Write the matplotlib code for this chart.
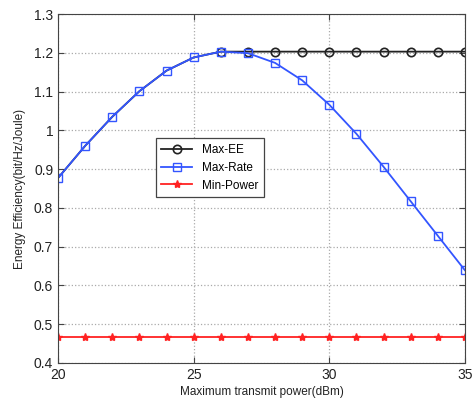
import matplotlib.pyplot as plt

plt.rcParams['font.family'] = ['Liberation Sans', 'DejaVu Sans']

power = [20, 21, 22, 23, 24, 25, 26, 27, 28, 29, 30, 31, 32, 33, 34, 35]
max_ee = [0.877, 0.960, 1.035, 1.101, 1.154, 1.188, 1.203, 1.203, 1.203, 1.203,
          1.203, 1.203, 1.203, 1.203, 1.203, 1.203]
max_rate = [0.877, 0.960, 1.035, 1.101, 1.154, 1.188, 1.203, 1.199, 1.174, 1.129,
            1.066, 0.991, 0.906, 0.817, 0.728, 0.639]
min_power = [0.468] * 16

fig = plt.figure(figsize=(4.72, 4.01), dpi=100)
ax = fig.add_axes([0.123, 0.095, 0.862, 0.870])

# Max-EE coincides with Max-Rate below 26 dBm, its markers hidden there
ax.plot(power, max_ee, color='#222222', marker='o', markersize=6, markerfacecolor='none',
        markeredgewidth=1.2, linewidth=1.3, label='Max-EE', markevery=range(6, 16))
ax.plot(power, max_rate, color='#3355ff', marker='s', markersize=6, markerfacecolor='none',
        markeredgewidth=1.0, linewidth=1.3, label='Max-Rate')
ax.plot(power, min_power, color='#ff2222', marker='*', markersize=6,
        linewidth=1.3, label='Min-Power')

ax.set_xlim(20, 35)
ax.set_ylim(0.4, 1.3)
ax.set_xticks([20, 25, 30, 35])
ax.set_yticks([0.4, 0.5, 0.6, 0.7, 0.8, 0.9, 1.0, 1.1, 1.2, 1.3])
ax.set_yticklabels(['0.4', '0.5', '0.6', '0.7', '0.8', '0.9', '1', '1.1', '1.2', '1.3'])
ax.tick_params(direction='in', labelsize=10, length=4, color='#444444', top=True, right=True,
               labelcolor='#222222')
ax.grid(True, linestyle=':', color='#aaaaaa', linewidth=0.9)
for s in ax.spines.values():
    s.set_color('#444444')

ax.set_xlabel('Maximum transmit power(dBm)', fontsize=8.5, color='#222222', labelpad=3)
ax.set_ylabel('Energy Efficiency(bit/Hz/Joule)', fontsize=8.5, color='#222222', labelpad=6)

leg = ax.legend(loc='upper left', bbox_to_anchor=(0.225, 0.662), fontsize=8.5,
                fancybox=False, framealpha=1, edgecolor='#444444', handlelength=2.6,
                borderpad=0.5, labelspacing=0.5)
leg.get_frame().set_linewidth(0.9)

fig.savefig('out.png', dpi=100)
